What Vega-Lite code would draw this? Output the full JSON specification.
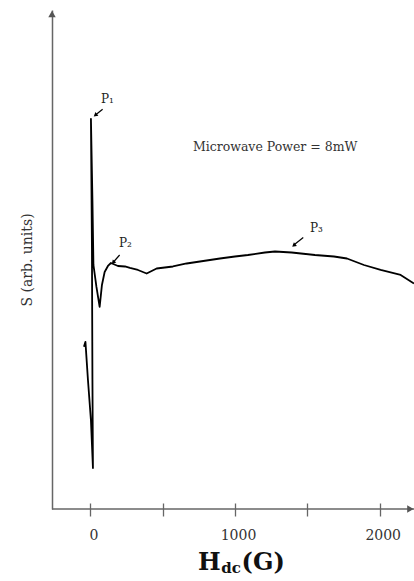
{
  "$schema": "https://vega.github.io/schema/vega-lite/v6.json",
  "width": 362,
  "height": 499,
  "autosize": {"type": "none"},
  "padding": {"left": 52, "top": 10, "right": 0, "bottom": 72},
  "background": "white",
  "config": {"view": {"stroke": null}, "font": "DejaVu Serif"},
  "data": {"values": [{"k": 1}]},
  "datasets": {
    "curve": [
      {"i": 1, "H": -44.2, "S": 32.5},
      {"i": 2, "H": -33.9, "S": 33.5},
      {"i": 3, "H": -16.6, "S": 25.9},
      {"i": 4, "H": 4.1, "S": 17.8},
      {"i": 5, "H": 18.0, "S": 8.2},
      {"i": 6, "H": 14.5, "S": 25.9},
      {"i": 7, "H": 11.1, "S": 51.9},
      {"i": 8, "H": 4.1, "S": 78.2},
      {"i": 9, "H": 14.5, "S": 61.9},
      {"i": 10, "H": 21.4, "S": 48.9},
      {"i": 11, "H": 42.2, "S": 44.5},
      {"i": 12, "H": 64.3, "S": 40.5},
      {"i": 13, "H": 80.2, "S": 44.9},
      {"i": 14, "H": 98.8, "S": 47.5},
      {"i": 15, "H": 121.6, "S": 48.7},
      {"i": 16, "H": 142.4, "S": 49.3},
      {"i": 17, "H": 190.8, "S": 48.7},
      {"i": 18, "H": 239.1, "S": 48.6},
      {"i": 19, "H": 273.7, "S": 48.3},
      {"i": 20, "H": 329.0, "S": 47.9},
      {"i": 21, "H": 389.1, "S": 47.2},
      {"i": 22, "H": 458.3, "S": 48.2},
      {"i": 23, "H": 570.9, "S": 48.6},
      {"i": 24, "H": 665.6, "S": 49.2},
      {"i": 25, "H": 757.5, "S": 49.6},
      {"i": 26, "H": 895.8, "S": 50.2},
      {"i": 27, "H": 999.4, "S": 50.6},
      {"i": 28, "H": 1089.3, "S": 50.9},
      {"i": 29, "H": 1206.8, "S": 51.4},
      {"i": 30, "H": 1276.0, "S": 51.6},
      {"i": 31, "H": 1391.3, "S": 51.4},
      {"i": 32, "H": 1552.4, "S": 50.9},
      {"i": 33, "H": 1683.7, "S": 50.6},
      {"i": 34, "H": 1773.6, "S": 50.2},
      {"i": 35, "H": 1891.1, "S": 48.9},
      {"i": 36, "H": 2006.5, "S": 47.9},
      {"i": 37, "H": 2144.7, "S": 46.9},
      {"i": 38, "H": 2236.7, "S": 45.2}
    ]
  },
  "layer": [
    {
      "data": {"name": "curve"},
      "mark": {"type": "line", "color": "black", "strokeWidth": 1.8, "strokeJoin": "round"},
      "encoding": {
        "x": {"field": "H", "type": "quantitative", "scale": {"domain": [-265, 2237], "nice": false, "zero": false},
          "axis": {"values": [0, 500, 1000, 1500, 2000], "format": "d", "labelExpr": "datum.value % 1000 == 0 ? datum.label : ''",
            "domain": false, "grid": false, "tickSize": 13, "offset": -6, "tickColor": "#666", "tickWidth": 1.3,
            "labelFont": "DejaVu Serif", "labelFontSize": 14, "labelColor": "#333", "labelPadding": 12, "labelOffset": 3, "title": null}},
        "y": {"field": "S", "type": "quantitative", "scale": {"domain": [0, 100], "nice": false, "zero": false},
          "axis": {"domain": true, "domainColor": "#666", "domainWidth": 1.5, "ticks": false, "labels": false, "grid": false,
            "title": "S (arb. units)", "titleFont": "DejaVu Serif", "titleFontSize": 14, "titleFontWeight": "normal",
            "titleColor": "#333", "titlePadding": 18}},
        "order": {"field": "i", "type": "quantitative"}
      }
    },
    {
      "mark": {"type": "rule", "color": "#666", "strokeWidth": 1.5},
      "encoding": {
        "x": {"datum": -265, "type": "quantitative", "scale": {"domain": [-265, 2237], "nice": false, "zero": false}},
        "x2": {"datum": 2237},
        "y": {"datum": 0, "type": "quantitative", "scale": {"domain": [0, 100], "nice": false, "zero": false}}
      }
    },
    {
      "mark": {"type": "point", "shape": "triangle-right", "filled": true, "color": "#555", "size": 55, "opacity": 1},
      "encoding": {
        "x": {"datum": 2212, "type": "quantitative", "scale": {"domain": [-265, 2237], "nice": false, "zero": false}},
        "y": {"datum": 0, "type": "quantitative", "scale": {"domain": [0, 100], "nice": false, "zero": false}}
      }
    },
    {
      "mark": {"type": "point", "shape": "triangle-up", "filled": true, "color": "#555", "size": 55, "opacity": 1},
      "encoding": {
        "x": {"datum": -265, "type": "quantitative", "scale": {"domain": [-265, 2237], "nice": false, "zero": false}},
        "y": {"datum": 99.2, "type": "quantitative", "scale": {"domain": [0, 100], "nice": false, "zero": false}}
      }
    },
    {
      "mark": {"type": "rule", "color": "black", "strokeWidth": 1.2},
      "encoding": {
        "x": {"datum": 85.0, "type": "quantitative", "scale": {"domain": [-265, 2237], "nice": false, "zero": false}},
        "x2": {"datum": 33.0},
        "y": {"datum": 80.1, "type": "quantitative", "scale": {"domain": [0, 100], "nice": false, "zero": false}},
        "y2": {"datum": 78.9}
      }
    },
    {
      "mark": {"type": "rule", "color": "black", "strokeWidth": 1.2},
      "encoding": {
        "x": {"datum": 202.5, "type": "quantitative", "scale": {"domain": [-265, 2237], "nice": false, "zero": false}},
        "x2": {"datum": 157.0},
        "y": {"datum": 50.9, "type": "quantitative", "scale": {"domain": [0, 100], "nice": false, "zero": false}},
        "y2": {"datum": 49.4}
      }
    },
    {
      "mark": {"type": "rule", "color": "black", "strokeWidth": 1.2},
      "encoding": {
        "x": {"datum": 1471.5, "type": "quantitative", "scale": {"domain": [-265, 2237], "nice": false, "zero": false}},
        "x2": {"datum": 1402.0},
        "y": {"datum": 54.4, "type": "quantitative", "scale": {"domain": [0, 100], "nice": false, "zero": false}},
        "y2": {"datum": 52.8}
      }
    },
    {
      "mark": {"type": "point", "shape": "triangle", "filled": true, "color": "black", "size": 22, "opacity": 1, "angle": 231},
      "encoding": {
        "x": {"datum": 38.0, "type": "quantitative", "scale": {"domain": [-265, 2237], "nice": false, "zero": false}},
        "y": {"datum": 79.0, "type": "quantitative", "scale": {"domain": [0, 100], "nice": false, "zero": false}}
      }
    },
    {
      "mark": {"type": "point", "shape": "triangle", "filled": true, "color": "black", "size": 22, "opacity": 1, "angle": 222},
      "encoding": {
        "x": {"datum": 161.0, "type": "quantitative", "scale": {"domain": [-265, 2237], "nice": false, "zero": false}},
        "y": {"datum": 49.5, "type": "quantitative", "scale": {"domain": [0, 100], "nice": false, "zero": false}}
      }
    },
    {
      "mark": {"type": "point", "shape": "triangle", "filled": true, "color": "black", "size": 22, "opacity": 1, "angle": 231},
      "encoding": {
        "x": {"datum": 1410.0, "type": "quantitative", "scale": {"domain": [-265, 2237], "nice": false, "zero": false}},
        "y": {"datum": 52.9, "type": "quantitative", "scale": {"domain": [0, 100], "nice": false, "zero": false}}
      }
    },
    {
      "mark": {"type": "text", "text": "P₁", "font": "DejaVu Serif", "fontSize": 12, "color": "#222", "align": "center", "baseline": "middle"},
      "encoding": {
        "x": {"datum": 118.0, "type": "quantitative", "scale": {"domain": [-265, 2237], "nice": false, "zero": false}},
        "y": {"datum": 82.2, "type": "quantitative", "scale": {"domain": [0, 100], "nice": false, "zero": false}}
      }
    },
    {
      "mark": {"type": "text", "text": "P₂", "font": "DejaVu Serif", "fontSize": 12, "color": "#222", "align": "center", "baseline": "middle"},
      "encoding": {
        "x": {"datum": 242.6, "type": "quantitative", "scale": {"domain": [-265, 2237], "nice": false, "zero": false}},
        "y": {"datum": 53.3, "type": "quantitative", "scale": {"domain": [0, 100], "nice": false, "zero": false}}
      }
    },
    {
      "mark": {"type": "text", "text": "P₃", "font": "DejaVu Serif", "fontSize": 12, "color": "#222", "align": "center", "baseline": "middle"},
      "encoding": {
        "x": {"datum": 1562.8, "type": "quantitative", "scale": {"domain": [-265, 2237], "nice": false, "zero": false}},
        "y": {"datum": 56.3, "type": "quantitative", "scale": {"domain": [0, 100], "nice": false, "zero": false}}
      }
    },
    {
      "mark": {"type": "text", "text": "Microwave Power = 8mW", "font": "DejaVu Serif", "fontSize": 12.5, "color": "#333", "align": "left", "baseline": "middle"},
      "encoding": {
        "x": {"datum": 709, "type": "quantitative", "scale": {"domain": [-265, 2237], "nice": false, "zero": false}},
        "y": {"datum": 72.6, "type": "quantitative", "scale": {"domain": [0, 100], "nice": false, "zero": false}}
      }
    },
    {
      "mark": {"type": "text", "text": "H", "font": "DejaVu Serif", "fontSize": 24, "fontWeight": "bold", "color": "#111", "align": "left", "baseline": "alphabetic"},
      "encoding": {
        "x": {"datum": 743.7, "type": "quantitative", "scale": {"domain": [-265, 2237], "nice": false, "zero": false}},
        "y": {"datum": -12.2, "type": "quantitative", "scale": {"domain": [0, 100], "nice": false, "zero": false}}
      }
    },
    {
      "mark": {"type": "text", "text": "dc", "font": "DejaVu Serif", "fontSize": 15, "fontWeight": "bold", "color": "#111", "align": "left", "baseline": "alphabetic"},
      "encoding": {
        "x": {"datum": 905, "type": "quantitative", "scale": {"domain": [-265, 2237], "nice": false, "zero": false}},
        "y": {"datum": -12.9, "type": "quantitative", "scale": {"domain": [0, 100], "nice": false, "zero": false}}
      }
    },
    {
      "mark": {"type": "text", "text": "(G)", "font": "DejaVu Serif", "fontSize": 24, "fontWeight": "bold", "color": "#111", "align": "left", "baseline": "alphabetic"},
      "encoding": {
        "x": {"datum": 1045, "type": "quantitative", "scale": {"domain": [-265, 2237], "nice": false, "zero": false}},
        "y": {"datum": -12.2, "type": "quantitative", "scale": {"domain": [0, 100], "nice": false, "zero": false}}
      }
    }
  ]
}
